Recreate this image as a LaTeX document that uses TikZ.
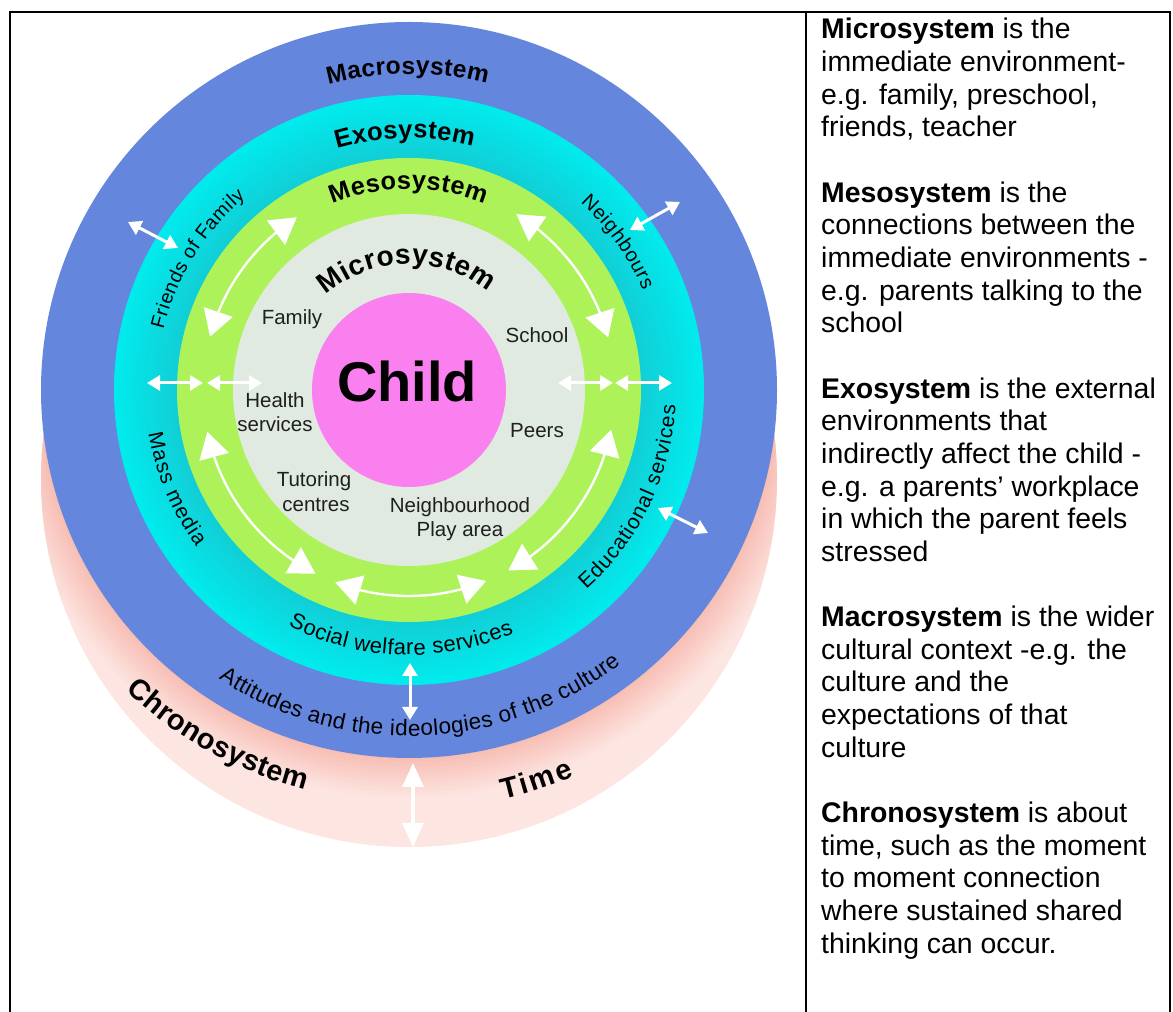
\documentclass[tikz,border=0pt]{standalone}
\usepackage{fontspec}
\setmainfont{Liberation Sans}
\setsansfont{Liberation Sans}
\usetikzlibrary{arrows.meta,bending,calc,decorations.text}

\definecolor{macroC}{RGB}{100,134,221}
\definecolor{cyanIn}{RGB}{18,206,214}
\definecolor{cyanOut}{RGB}{0,236,238}
\definecolor{mesoC}{RGB}{172,242,88}
\definecolor{microC}{RGB}{224,234,224}
\definecolor{childC}{RGB}{250,128,240}
\definecolor{chronoC}{RGB}{253,229,225}
\definecolor{salmonC}{RGB}{247,188,178}

\newcommand\fMac{\fontsize{24.5}{28}\selectfont\bfseries}
\newcommand\fExo{\fontsize{25.5}{29}\selectfont\bfseries}
\newcommand\fMes{\fontsize{25.3}{29}\selectfont\bfseries}
\newcommand\fMic{\fontsize{28}{32}\selectfont\bfseries}
\newcommand\fChr{\fontsize{29}{33}\selectfont\bfseries}
\newcommand\fSideA{\fontsize{19.5}{23}\selectfont}
\newcommand\fSideB{\fontsize{20}{23}\selectfont}
\newcommand\fSideC{\fontsize{21}{24}\selectfont}
\newcommand\fSideD{\fontsize{22}{25}\selectfont}
\newcommand\fSideE{\fontsize{22.5}{26}\selectfont}

\begin{document}
\begin{tikzpicture}[x=1pt,y=1pt,
  bigarr/.style={draw=white,line width=2.4pt,{Triangle[length=26pt,width=30pt]}-{Triangle[length=26pt,width=30pt]}},
  smallarr/.style={draw=white,line width=3pt,{Triangle[length=13pt,width=15pt]}-{Triangle[length=13pt,width=15pt]}},
  timearr/.style={draw=white,line width=3.5pt,{Triangle[length=24pt,width=21pt]}-{Triangle[length=24pt,width=21pt]}},
  lbl/.style={font=\fontsize{20.5}{24}\selectfont, anchor=base, inner sep=0pt, text=black!88},
  para/.style={font=\fontsize{28.4}{32.65}\selectfont, anchor=base west, inner sep=0pt},
  ring/.style={decorate, decoration={text along path, text align={fit to path}}},
  frame/.style={line width=2pt, black}
]
\useasboundingbox (0,0) rectangle (1173,1012);
\coordinate (C) at (409,622);
\coordinate (T) at (409,533);

% ---- chronosystem backdrop
\fill[chronoC] (T) circle[radius=368];
\begin{scope}
  \clip (T) circle[radius=368];
  \foreach \i in {0,...,15}{
    \pgfmathsetmacro\rr{369+2.5*\i}
    \pgfmathsetmacro\pp{95-\i*6}
    \draw[line width=2.7pt, salmonC!\pp!chronoC] (C) circle[radius=\rr];
  }
\end{scope}

% ---- system circles
\fill[macroC] (C) circle[radius=368];
\fill[cyanOut] (C) circle[radius=295];
\foreach \i in {0,...,30}{
  \pgfmathsetmacro\rr{233+2*\i}
  \pgfmathsetmacro\pp{100-\i*3.2}
  \draw[line width=2.2pt, cyanIn!\pp!cyanOut] (C) circle[radius=\rr];
}
\fill[mesoC] (C) circle[radius=232];
\fill[microC] (C) circle[radius=176];
\fill[childC] (C) circle[radius=97];

% ---- curved arrows in the mesosystem band
\draw[bigarr] ($(C)+(123:206)$) arc[start angle=123,end angle=165,radius=206];
\draw[bigarr] ($(C)+(58.6:206)$) arc[start angle=58.6,end angle=14.8,radius=206];
\draw[bigarr] ($(C)+(191.7:206)$) arc[start angle=191.7,end angle=243,radius=206];
\draw[bigarr] ($(C)+(249:206)$) arc[start angle=249,end angle=292,radius=206];
\draw[bigarr] ($(C)+(298.8:206)$) arc[start angle=298.8,end angle=348.9,radius=206];

% ---- straight arrows
\coordinate (h1a) at (147,629); \coordinate (h1b) at (203,629);
\coordinate (h2a) at (207,629); \coordinate (h2b) at (262,629);
\coordinate (h3a) at (558,629); \coordinate (h3b) at (613,629);
\coordinate (h4a) at (615,629); \coordinate (h4b) at (672,629);
\coordinate (d1a) at (128,790); \coordinate (d1b) at (178,764);
\coordinate (d2a) at (630,782); \coordinate (d2b) at (680,810);
\coordinate (d3a) at (658,504); \coordinate (d3b) at (708,479);
\coordinate (d4a) at (410,349); \coordinate (d4b) at (410,292);
\coordinate (d5a) at (413,249); \coordinate (d5b) at (413,165);
\draw[smallarr] (h1a) -- (h1b);
\draw[smallarr] (h2a) -- (h2b);
\draw[smallarr] (h3a) -- (h3b);
\draw[smallarr] (h4a) -- (h4b);
\draw[smallarr] (d1a) -- (d1b);
\draw[smallarr] (d2a) -- (d2b);
\draw[smallarr] (d3a) -- (d3b);
\draw[smallarr] (d4a) -- (d4b);
\draw[timearr] (d5a) -- (d5b);

% ---- curved labels
\path[ring, decoration={text={|\fMac|Macrosystem}}] ($(C)+(104.8:316)$) arc[start angle=104.8,end angle=75.7,radius=316];
\path[ring, decoration={text={|\fExo|Exosystem}}] ($(C)+(106.6:252)$) arc[start angle=106.6,end angle=75.3,radius=252];
\path[ring, decoration={text={|\fMes|Mesosystem}}] ($(C)+(112.3:201)$) arc[start angle=112.3,end angle=68,radius=201];
\path[ring, decoration={text={|\fMic|Microsystem}}] ($(C)+(131.3:126)$) arc[start angle=131.3,end angle=51.1,radius=126];
\path[ring, decoration={text={|\fSideA|Friends of Family}}] ($(C)+(166.1:253)$) arc[start angle=166.1,end angle=130.3,radius=253];
\path[ring, decoration={text={|\fSideB|Neighbours}}] ($(C)+(47.5:254)$) arc[start angle=47.5,end angle=23,radius=254];
\path[ring, decoration={text={|\fSideC|Mass media}}] ($(C)+(189.5:264)$) arc[start angle=189.5,end angle=216.5,radius=264];
\path[ring, decoration={text={|\fSideC|Educational services}}] ($(C)+(-48.4:267)$) arc[start angle=-48.4,end angle=-3.3,radius=267];
\path[ring, decoration={text={|\fSideD|Social welfare services}}] ($(C)+(242.9:265)$) arc[start angle=242.9,end angle=293.3,radius=265];
\path[ring, decoration={text={|\fSideE|Attitudes and the ideologies of the culture}}] ($(C)+(236.6:346)$) arc[start angle=236.6,end angle=307.7,radius=346];
\path[ring, decoration={text={|\fChr|Chronosystem}}] ($(C)+(226.7:413)$) arc[start angle=226.7,end angle=255.4,radius=413];
\path[ring, decoration={text={|\fChr|Time}}] ($(C)+(283:420)$) arc[start angle=283,end angle=293.2,radius=420];

% ---- inner labels
\node[font=\fontsize{56}{60}\selectfont\bfseries, anchor=base, inner sep=0pt] (child) at (407,610) {Child};
\node[lbl] (family) at (292,687) {Family};
\node[lbl] (school) at (537,669) {School};
\node[lbl] (health) at (275,604) {Health};
\node[lbl] (healthb) at (275,580) {services};
\node[lbl] (peers) at (537,574) {Peers};
\node[lbl] (tutor) at (314,525) {Tutoring};
\node[lbl] (tutorb) at (316,500) {centres};
\node[lbl] (neigh) at (460,499) {Neighbourhood};
\node[lbl] (neighb) at (460,475) {Play area};

% ---- table frame
\draw[frame] (10,0) -- (10,1000) -- (1170,1000) -- (1170,0);
\draw[frame] (806,0) -- (806,1000);

% ---- description column
\foreach \n/\txt in {
 0/{\textbf{Microsystem} is the},
 1/{immediate environment-},
 2/{e.g. family, preschool,},
 3/{friends, teacher},
 5/{\textbf{Mesosystem} is the},
 6/{connections between the},
 7/{immediate environments -},
 8/{e.g. parents talking to the},
 9/{school},
 11/{\textbf{Exosystem} is the external},
 12/{environments that},
 13/{indirectly affect the child -},
 14/{e.g. a parents’ workplace},
 15/{in which the parent feels},
 16/{stressed},
 18/{\textbf{Macrosystem} is the wider},
 19/{cultural context -e.g. the},
 20/{culture and the},
 21/{expectations of that},
 22/{culture},
 24/{\textbf{Chronosystem} is about},
 25/{time, such as the moment},
 26/{to moment connection},
 27/{where sustained shared},
 28/{thinking can occur.}
}{\node[para] (line\n) at (821,{973-32.65*\n}) {\txt};}
\end{tikzpicture}
\end{document}
